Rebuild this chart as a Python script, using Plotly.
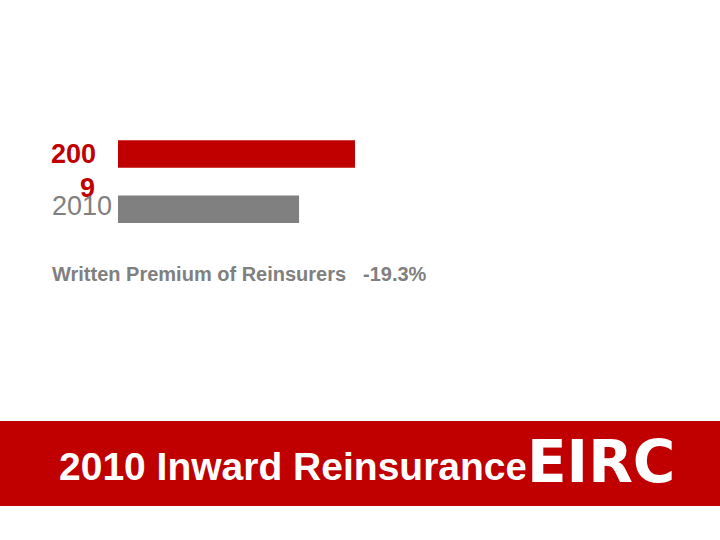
import plotly.graph_objects as go

# ── Data ────────────────────────────────────────────────────────────────────
YEARS = ["2009", "2010"]
PREMIUM = [100.0, 76.4]          # relative written premium (bar length)
BAR_COLORS = ["#c00000", "#808080"]
CHANGE_LABEL = "-19.3%"
METRIC_LABEL = "Written Premium of Reinsurers"
BANNER_TITLE = "2010 Inward Reinsurance"

W, H = 720, 540
RED = "#c00000"
GREY = "#808080"
FONT = "Arial, Liberation Sans, sans-serif"


def py(px):
    """pixel row -> paper y"""
    return 1 - px / H


fig = go.Figure()

fig.add_trace(go.Bar(
    y=YEARS,
    x=PREMIUM,
    orientation="h",
    marker=dict(color=BAR_COLORS, line_width=0),
    width=0.5,
    showlegend=False,
    hoverinfo="skip",
))

fig.update_xaxes(
    range=[0, PREMIUM[0]],
    domain=[118 / W, 355 / W],
    visible=False,
    fixedrange=True,
)
fig.update_yaxes(
    type="category",
    categoryorder="array",
    categoryarray=YEARS,
    range=[1.5, -0.5],
    domain=[py(236.8), py(126.5)],
    visible=False,
    fixedrange=True,
)

# year labels (the 2009 label wraps awkwardly in the original)
i09, i10 = YEARS.index("2009"), YEARS.index("2010")
fig.add_annotation(x=98 / W, xref="paper", y=i09, yref="y",
                   text="<b>200</b>", showarrow=False, xanchor="right",
                   yanchor="middle", font=dict(family=FONT, size=27, color=RED))
fig.add_annotation(x=87.5 / W, xref="paper", y=i09, yref="y", yshift=-34,
                   text="<b>9</b>", showarrow=False, xanchor="center",
                   yanchor="middle", font=dict(family=FONT, size=27, color=RED))
fig.add_annotation(x=50 / W, xref="paper", y=i10, yref="y", yshift=3,
                   text=YEARS[1], showarrow=False, xanchor="left",
                   yanchor="middle", font=dict(family=FONT, size=27, color=GREY))

# metric caption
fig.add_annotation(x=50 / W, xref="paper", y=py(274), yref="paper",
                   text=f"<b>{METRIC_LABEL}</b>", showarrow=False,
                   xanchor="left", yanchor="middle",
                   font=dict(family=FONT, size=20, color=GREY))
fig.add_annotation(x=361 / W, xref="paper", y=py(274), yref="paper",
                   text=f"<b>{CHANGE_LABEL}</b>", showarrow=False,
                   xanchor="left", yanchor="middle",
                   font=dict(family=FONT, size=20, color=GREY))

# bottom banner
fig.add_shape(type="rect", xref="paper", yref="paper",
              x0=0, x1=1, y0=py(506), y1=py(421),
              fillcolor=RED, line_width=0, layer="below")
fig.add_annotation(x=57 / W, xref="paper", y=py(466), yref="paper",
                   text=f"<b>{BANNER_TITLE}</b>", showarrow=False,
                   xanchor="left", yanchor="middle",
                   font=dict(family=FONT, size=39, color="white"))
fig.add_annotation(x=525 / W, xref="paper", y=py(462), yref="paper",
                   text="<b>EIRC</b>", showarrow=False,
                   xanchor="left", yanchor="middle", bgcolor=RED,
                   font=dict(family="DejaVu Sans, sans-serif", size=58, color="white"))

fig.update_layout(
    width=W, height=H,
    margin=dict(l=0, r=0, t=0, b=0),
    paper_bgcolor="white",
    plot_bgcolor="white",
    bargap=0.5,
)

fig.write_html(
    "out.html",
    config={"displayModeBar": False},
    post_script="document.body.style.margin='0';document.body.style.overflow='hidden';",
)
